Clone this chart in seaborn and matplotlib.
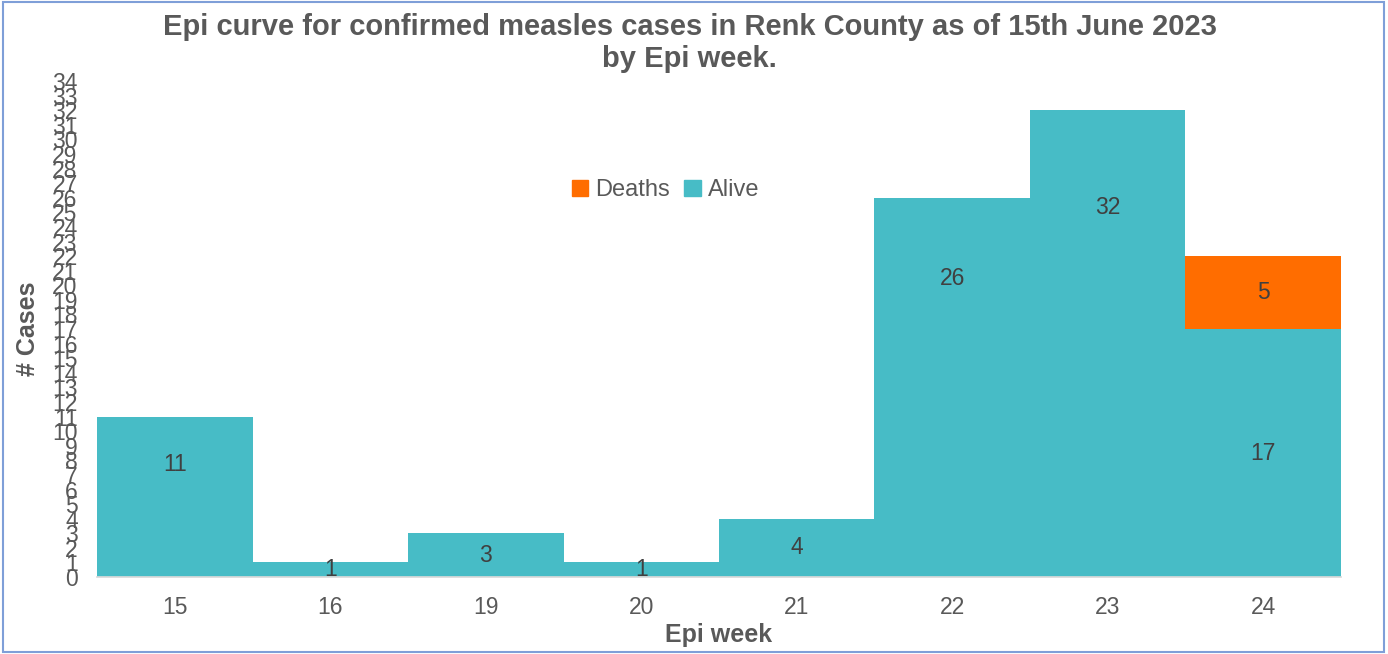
import matplotlib
matplotlib.use("Agg")
import matplotlib.pyplot as plt
import seaborn as sns
from matplotlib.patches import Patch, Rectangle

# ---- data ----
weeks = ["15", "16", "19", "20", "21", "22", "23", "24"]
alive = [11, 1, 3, 1, 4, 26, 32, 17]
deaths = [0, 0, 0, 0, 0, 0, 0, 5]
# label heights (Excel places some labels by hand)
alive_label_y = [7.7, 0.5, 1.5, 0.5, 2.0, 20.5, 25.3, 8.5]

teal = "#47BCC6"
orange = "#FF6D00"
grey = "#595959"

sns.set_theme(style="white")
plt.rcParams["font.family"] = ["Liberation Sans", "DejaVu Sans"]

fig = plt.figure(figsize=(13.88, 6.54), dpi=100)
ax = fig.add_axes([0.070, 0.1177, 0.896, 0.7583])

totals = [a + d for a, d in zip(alive, deaths)]
sns.barplot(x=weeks, y=totals, color=orange, width=1.0, saturation=1, linewidth=0, ax=ax)
sns.barplot(x=weeks, y=alive, color=teal, width=1.0, saturation=1, linewidth=0, ax=ax)

# data labels
for i, (a, d) in enumerate(zip(alive, deaths)):
    ax.text(i, alive_label_y[i], str(a), ha="center", va="center",
            fontsize=16.5, color="#404040")
    if d > 0:
        ax.text(i, a + d / 2, str(d), ha="center", va="center",
                fontsize=16.5, color="#404040")

ax.set_ylim(0, 34)
ax.set_xlim(-0.5, len(weeks) - 0.5)
ax.set_yticks(range(0, 35))
ax.set_yticklabels([str(v) for v in range(0, 35)], fontsize=16.5, color=grey)
ax.tick_params(axis="x", labelsize=16.5, labelcolor=grey, length=0, pad=14)
ax.tick_params(axis="y", length=0, pad=14)

for s in ["top", "right", "left"]:
    ax.spines[s].set_visible(False)
ax.spines["bottom"].set_color("#D9D9D9")

ax.set_xlabel("Epi week", fontsize=18, fontweight="bold", color=grey)
ax.xaxis.set_label_coords(0.5, -0.092)
ax.set_ylabel("# Cases", fontsize=18, fontweight="bold", color=grey)
ax.yaxis.set_label_coords(-0.046, 0.5)

fig.suptitle("Epi curve for confirmed measles cases in Renk County as of 15th June 2023\nby Epi week.",
             x=0.497, y=0.98, fontsize=21, fontweight="bold", color=grey, linespacing=1.2)

handles = [Patch(color=orange, label="Deaths"), Patch(color=teal, label="Alive")]
ax.legend(handles=handles, loc="center", bbox_to_anchor=(0.457, 0.78),
          ncol=2, frameon=False, fontsize=17, handlelength=0.7, handleheight=0.7,
          handletextpad=0.3, columnspacing=0.6, labelcolor=grey)

# figure border
fig.patches.append(Rectangle((0.002, 0.003), 0.995, 0.994, transform=fig.transFigure,
                             fill=False, edgecolor="#7F9FD8", linewidth=1.5))

fig.savefig("out.png", dpi=100)
